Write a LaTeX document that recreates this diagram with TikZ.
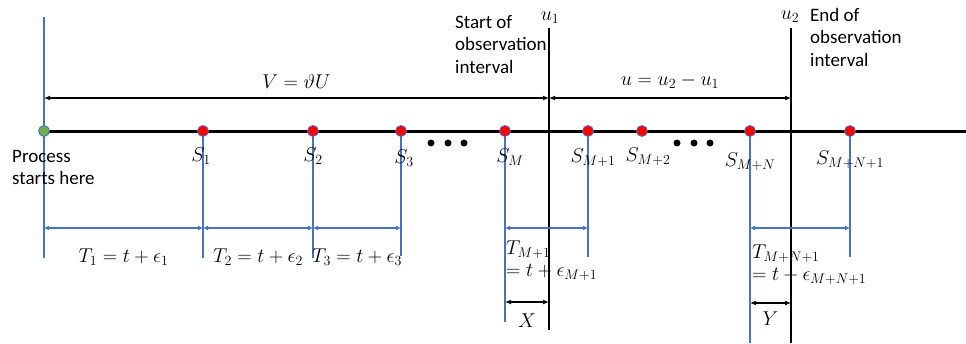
\RequirePackage{fix-cm}
\documentclass[tikz,border=0pt]{standalone}
\usepackage{fontspec}
\setmainfont{Carlito}
\usetikzlibrary{arrows.meta}
\definecolor{officeblue}{HTML}{4472C4}
\definecolor{officegreen}{HTML}{70AD47}
\definecolor{eventred}{HTML}{FF0000}

\begin{document}
\begin{tikzpicture}[x=1pt, y=-1pt, >={Latex[length=6pt,width=5pt]},
  every node/.style={font=\fontsize{20}{22}\selectfont, inner sep=0pt, text=black},
  event/.style={circle, draw=officeblue, line width=0.8pt, fill=eventred, minimum size=11pt},
  origin/.style={event, fill=officegreen},
  stem/.style={officeblue, line width=1.5pt},
  span/.style={<->, officeblue, line width=1.3pt, >={Latex[length=5pt,width=5pt]}},
  bound/.style={black, line width=1.6pt},
  measure/.style={<->, black, line width=1.3pt},
  note/.style={align=left, anchor=north west, font=\fontsize{19}{22.5}\selectfont}]

  \useasboundingbox (0,0) rectangle (966,343);

  % events on the time axis, where their stems end and where the spans sit
  \foreach \n/\x/\b in {0/44/258, 1/203/258, 2/313/258, 3/401/256, m/505/322,
                        m1/588/257, mn/750/343, mn1/850/257} {
    \coordinate (s\n) at (\x,131);
    \coordinate (b\n) at (\x,\b);
    \coordinate (a\n) at (\x,228);
  }
  \coordinate (sm2) at (642,131);
  \coordinate (top0) at (44,17);
  \coordinate (axisend) at (966,131);

  % bounds of the observation interval
  \coordinate (u1top) at (549,28);
  \coordinate (u1bot) at (549,330);
  \coordinate (u2top) at (791,28);
  \coordinate (u2bot) at (791,343);

  \draw[stem] (top0) -- (b0);
  \foreach \n in {1,2,3,m,m1,mn,mn1}
    \draw[stem] (s\n) -- (b\n);
  \draw[line width=3pt] (s0) -- (axisend);
  \draw[bound] (u1top) -- (u1bot);
  \draw[bound] (u2top) -- (u2bot);

  \node[origin] (p0) at (s0) {};
  \foreach \n in {1,2,3,m,m1,m2,mn,mn1}
    \node[event] (p\n) at (s\n) {};

  % dots for the skipped events
  \foreach \x in {431,448,464,677,694,710}
    \fill (\x,143) circle (3.5pt);

  % event labels
  \node (ls1) at (201,156) {$S_1$};
  \node (ls2) at (313,156) {$S_2$};
  \node (ls3) at (404,158) {$S_3$};
  \node (lsm) at (510,157) {$S_M$};
  \node (lsm1) at (593,158) {$S_{M+1}$};
  \node (lsm2) at (648,157) {$S_{M+2}$};
  \node (lsmn) at (750,162) {$S_{M+N}$};
  \node (lsmn1) at (850,160) {$S_{M+N+1}$};

  % overall lengths
  \coordinate (v0) at (44,98);
  \coordinate (v1) at (549,98);
  \coordinate (v2) at (791,98);
  \draw[measure] (v0) -- node[above=9pt] (vlab) {$V=\vartheta U$} (v1);
  \draw[measure] (v1) -- node[above=9pt] (ulab) {$u=u_2-u_1$} (v2);
  \node (u1lab) at (550,18) {$u_1$};
  \node (u2lab) at (790,17) {$u_2$};

  % inter-event times
  \draw[span] (a0) -- node[below=20pt] (t1) {$T_1=t+\epsilon_1$} (a1);
  \draw[span] (a1) -- node[below=20pt] (t2) {$T_2=t+\epsilon_2$} (a2);
  \draw[span] (a2) -- node[below=20pt] (t3) {$T_3=t+\epsilon_3$} (a3);
  \draw[span] (am) -- (am1);
  \draw[span] (amn) -- (amn1);
  \node[align=left, anchor=north west] (tm1) at (506,241) {$T_{M+1}$\\$=t+\epsilon_{M+1}$};
  \node[align=left, anchor=north west] (tmn1) at (752,245) {$T_{M+N+1}$\\$=t+\epsilon_{M+N+1}$};

  % residual times at the bounds
  \coordinate (x0) at (505,302);
  \coordinate (x1) at (549,302);
  \coordinate (y0) at (750,303);
  \coordinate (y1) at (791,303);
  \draw[measure] (x0) -- node[below=11pt] (xlab) {$X$} (x1);
  \draw[measure] (y0) -- node[below=8pt] (ylab) {$Y$} (y1);

  % notes
  \node[note] (start) at (12,150) {Process\\starts here};
  \node[note] (obs1) at (455,15) {Start of\\observation\\interval};
  \node[note] (obs2) at (810,8) {End of\\observation\\interval};
\end{tikzpicture}
\end{document}
